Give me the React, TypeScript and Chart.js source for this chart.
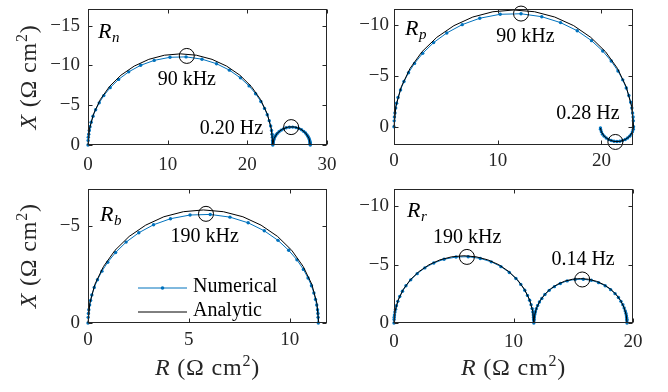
import React, { useEffect, useRef } from "react";
import { Chart, registerables } from "chart.js";

Chart.register(...registerables);

// ---------------- data (R, X in ohm cm^2) ----------------
// R_n
const rnNumR = [0, 0.02, 0.04, 0.09, 0.16, 0.25, 0.4, 0.63, 0.96, 1.41, 1.98, 2.78, 3.84, 5.11, 6.61, 8.31, 10.29, 12.31, 14.31, 16.13, 17.75, 19.13, 20.22, 21.04, 21.7, 22.16, 22.5, 22.75, 22.93, 23.04, 23.11, 23.16, 23.18, 23.2,
  23.2, 23.21, 23.22, 23.23, 23.25, 23.28, 23.33, 23.39, 23.48, 23.6, 23.76, 23.98, 24.24, 24.54, 24.88, 25.28, 25.69, 26.1, 26.47, 26.8, 27.08, 27.3, 27.46, 27.6, 27.69, 27.76, 27.81, 27.84, 27.87, 27.88, 27.89, 27.9, 27.9];
const rnNumX = [0, -0.58, -0.97, -1.35, -1.83, -2.31, -2.87, -3.61, -4.43, -5.3, -6.21, -7.21, -8.25, -9.2, -10.02, -10.64, -11.03, -11.08, -10.79, -10.22, -9.41, -8.44, -7.43, -6.45, -5.47, -4.6, -3.8, -3.06, -2.4, -1.83, -1.35, -0.97, -0.58, 0,
  -0.12, -0.2, -0.27, -0.37, -0.47, -0.58, -0.73, -0.9, -1.07, -1.26, -1.46, -1.67, -1.87, -2.03, -2.16, -2.24, -2.25, -2.19, -2.07, -1.91, -1.71, -1.51, -1.31, -1.11, -0.93, -0.77, -0.62, -0.49, -0.37, -0.27, -0.2, -0.12, 0];
const rnAnaR = [0, 0.18, 0.7, 1.55, 2.71, 4.14, 5.8, 7.63, 9.59, 11.6, 13.61, 15.57, 17.4, 19.06, 20.49, 21.65, 22.5, 23.02, 23.2,
  23.34, 23.75, 24.38, 25.14, 25.96, 26.73, 27.35, 27.76, 27.9];
const rnAnaX = [0, -1.99, -3.92, -5.73, -7.37, -8.78, -9.92, -10.77, -11.29, -11.46, -11.29, -10.77, -9.92, -8.78, -7.37, -5.73, -3.92, -1.99, 0,
  -0.79, -1.48, -1.99, -2.27, -2.27, -1.99, -1.48, -0.79, 0];
const rnMarkR = [12.4, 25.5];
const rnMarkX = [-11.2, -2.25];
const rnMarkText = ["90 kHz", "0.20 Hz"];
const rnXTicks = [0, 10, 20, 30];
const rnYTicks = [-15, -10, -5, 0];

// R_p
const rpNumR = [0, 0.02, 0.04, 0.09, 0.16, 0.25, 0.39, 0.63, 0.96, 1.4, 1.98, 2.77, 3.82, 5.09, 6.58, 8.27, 10.24, 12.25, 14.25, 16.06, 17.67, 19.05, 20.13, 20.95, 21.6, 22.06, 22.4, 22.65, 22.83, 22.94, 23.01, 23.06, 23.08, 23.1,
  23.08, 23.0, 22.89, 22.73, 22.53, 22.3, 22.05, 21.78, 21.5, 21.22, 20.95, 20.7, 20.47, 20.27, 20.11, 20.0, 19.92, 19.91];
const rpNumX = [0, -0.58, -0.97, -1.36, -1.84, -2.32, -2.89, -3.63, -4.45, -5.32, -6.24, -7.24, -8.29, -9.24, -10.06, -10.69, -11.08, -11.13, -10.84, -10.26, -9.46, -8.48, -7.46, -6.47, -5.49, -4.62, -3.81, -3.07, -2.41, -1.84, -1.36, -0.97, -0.58, 0,
  0.25, 0.5, 0.73, 0.93, 1.11, 1.26, 1.36, 1.43, 1.45, 1.43, 1.36, 1.26, 1.11, 0.93, 0.73, 0.5, 0.25, 0.13];
const rpAnaR = [0, 0.18, 0.7, 1.55, 2.7, 4.13, 5.78, 7.6, 9.54, 11.55, 13.56, 15.5, 17.33, 18.97, 20.4, 21.55, 22.4, 22.92, 23.1,
  23.0, 22.73, 22.3, 21.78, 21.22, 20.7, 20.27, 20.0, 19.91];
const rpAnaX = [0, -2.0, -3.93, -5.75, -7.39, -8.81, -9.96, -10.81, -11.33, -11.5, -11.33, -10.81, -9.96, -8.81, -7.39, -5.75, -3.93, -2.0, 0,
  0.5, 0.94, 1.27, 1.45, 1.45, 1.27, 0.94, 0.5, 0.13];
const rpMarkR = [12.25, 21.35];
const rpMarkX = [-11.15, 1.5];
const rpMarkText = ["90 kHz", "0.28 Hz"];
const rpXTicks = [0, 10, 20];
const rpYTicks = [-10, -5, 0];

// R_b
const rbNumR = [0, 0.01, 0.02, 0.04, 0.08, 0.13, 0.19, 0.31, 0.47, 0.69, 0.98, 1.37, 1.89, 2.52, 3.25, 4.09, 5.06, 6.06, 7.04, 7.94, 8.74, 9.42, 9.95, 10.36, 10.68, 10.91, 11.08, 11.2, 11.28, 11.34, 11.38, 11.4, 11.41, 11.42];
const rbNumX = [0, -0.29, -0.49, -0.68, -0.92, -1.16, -1.44, -1.82, -2.22, -2.66, -3.12, -3.62, -4.15, -4.63, -5.04, -5.35, -5.54, -5.57, -5.43, -5.14, -4.73, -4.24, -3.73, -3.24, -2.75, -2.31, -1.91, -1.54, -1.21, -0.92, -0.68, -0.49, -0.29, 0];
const rbAnaR = [0, 0.09, 0.34, 0.77, 1.34, 2.04, 2.86, 3.76, 4.73, 5.72, 6.71, 7.68, 8.58, 9.4, 10.1, 10.67, 11.1, 11.35, 11.44];
const rbAnaX = [0, -1.01, -1.98, -2.9, -3.73, -4.44, -5.02, -5.45, -5.71, -5.8, -5.71, -5.45, -5.02, -4.44, -3.73, -2.9, -1.98, -1.01, 0];
const rbMarkR = [5.85];
const rbMarkX = [-5.6];
const rbMarkText = ["190 kHz"];
const rbXTicks = [0, 5, 10];
const rbYTicks = [-5, 0];

// R_r
const rrNumR = [0, 0.01, 0.02, 0.04, 0.08, 0.13, 0.2, 0.32, 0.48, 0.71, 1.0, 1.4, 1.94, 2.58, 3.33, 4.19, 5.19, 6.21, 7.22, 8.14, 8.95, 9.65, 10.2, 10.61, 10.94, 11.17, 11.35, 11.47, 11.56, 11.62, 11.66, 11.68, 11.69, 11.7,
  11.71, 11.71, 11.73, 11.75, 11.79, 11.83, 11.91, 12.02, 12.17, 12.37, 12.63, 12.99, 13.42, 13.92, 14.49, 15.16, 15.84, 16.51, 17.12, 17.67, 18.13, 18.5, 18.78, 18.99, 19.15, 19.26, 19.35, 19.41, 19.45, 19.47, 19.49, 19.49, 19.5];
const rrNumX = [0, -0.3, -0.5, -0.69, -0.94, -1.18, -1.47, -1.85, -2.26, -2.71, -3.18, -3.69, -4.22, -4.71, -5.13, -5.45, -5.64, -5.67, -5.52, -5.23, -4.82, -4.32, -3.8, -3.3, -2.8, -2.36, -1.94, -1.57, -1.23, -0.94, -0.69, -0.5, -0.3, 0,
  -0.2, -0.33, -0.46, -0.62, -0.78, -0.97, -1.22, -1.5, -1.79, -2.1, -2.44, -2.79, -3.11, -3.38, -3.6, -3.73, -3.74, -3.65, -3.45, -3.18, -2.85, -2.51, -2.18, -1.85, -1.56, -1.28, -1.03, -0.81, -0.62, -0.46, -0.33, -0.2, 0];
const rrAnaR = [0, 0.09, 0.35, 0.78, 1.37, 2.09, 2.93, 3.85, 4.83, 5.85, 6.87, 7.85, 8.78, 9.61, 10.33, 10.92, 11.35, 11.61, 11.7,
  11.76, 11.94, 12.22, 12.61, 13.09, 13.65, 14.27, 14.92, 15.6, 16.28, 16.93, 17.55, 18.11, 18.59, 18.98, 19.26, 19.44, 19.5];
const rrAnaX = [0, -1.0, -1.97, -2.88, -3.7, -4.4, -4.98, -5.4, -5.66, -5.75, -5.66, -5.4, -4.98, -4.4, -3.7, -2.88, -1.97, -1.0, 0,
  -0.66, -1.3, -1.9, -2.44, -2.91, -3.29, -3.57, -3.74, -3.8, -3.74, -3.57, -3.29, -2.91, -2.44, -1.9, -1.3, -0.66, 0];
const rrMarkR = [6.1, 15.75];
const rrMarkX = [-5.65, -3.72];
const rrMarkText = ["190 kHz", "0.14 Hz"];
const rrXTicks = [0, 10, 20];
const rrYTicks = [-10, -5, 0];

const legendLabels = ["Numerical", "Analytic"];

// ---------------- styling ----------------
const FONT = '"Liberation Serif", "Times New Roman", serif';
const INK = "#262626";
const BLUE = "#0072BD";

type Spec = {
  id: string;
  canvas: { left: number; top: number; width: number; height: number };
  area: { left: number; top: number; right: number; bottom: number };
  xr: [number, number];
  yr: [number, number];
  xTicks: number[];
  yTicks: number[];
  numR: number[]; numX: number[];
  anaR: number[]; anaX: number[];
  markR: number[]; markX: number[];
  markText: string[];
  textPos: [number, number][];
  sub: string;
  subOff: [number, number];
  xPad: number;
  yPad: number;
  yTitle: boolean;
  xTitle: boolean;
  legend: boolean;
};

const XH = 30;

const PANELS: Spec[] = [
  {
    id: "n", canvas: { left: 0, top: 0, width: 350, height: 180 },
    area: { left: 88, top: 9, right: 327, bottom: 145 },
    xr: [0, 30], yr: [-17.1, 0], xTicks: rnXTicks, yTicks: rnYTicks,
    numR: rnNumR, numX: rnNumX, anaR: rnAnaR, anaX: rnAnaX,
    markR: rnMarkR, markX: rnMarkX, markText: rnMarkText,
    textPos: [[12.4, -8.25], [18.0, -2.1]],
    sub: "n", subOff: [10, 29], xPad: 8.6, yPad: 8, yTitle: true, xTitle: false, legend: false,
  },
  {
    id: "p", canvas: { left: 330, top: 0, width: 338, height: 180 },
    area: { left: 64, top: 9, right: 303, bottom: 145 },
    xr: [0, 23.05], yr: [-11.6, 1.8], xTicks: rpXTicks, yTicks: rpYTicks,
    numR: rpNumR, numX: rpNumX, anaR: rpAnaR, anaX: rpAnaX,
    markR: rpMarkR, markX: rpMarkX, markText: rpMarkText,
    textPos: [[12.68, -8.85], [18.7, -1.32]],
    sub: "p", subOff: [11, 26], xPad: 4.6, yPad: 5, yTitle: false, xTitle: false, legend: false,
  },
  {
    id: "b", canvas: { left: 0, top: 180, width: 350, height: 212 },
    area: { left: 88, top: 5, right: 327, bottom: 143 },
    xr: [0, 11.85], yr: [-6.9, 0], xTicks: rbXTicks, yTicks: rbYTicks,
    numR: rbNumR, numX: rbNumX, anaR: rbAnaR, anaX: rbAnaX,
    markR: rbMarkR, markX: rbMarkX, markText: rbMarkText,
    textPos: [[5.79, -4.43]],
    sub: "b", subOff: [12, 32], xPad: 5.5, yPad: 8, yTitle: true, xTitle: true, legend: true,
  },
  {
    id: "r", canvas: { left: 330, top: 180, width: 338, height: 212 },
    area: { left: 64, top: 5, right: 303, bottom: 143 },
    xr: [0, 20], yr: [-11.5, 0], xTicks: rrXTicks, yTicks: rrYTicks,
    numR: rrNumR, numX: rrNumX, anaR: rrAnaR, anaX: rrAnaX,
    markR: rrMarkR, markX: rrMarkX, markText: rrMarkText,
    textPos: [[6.13, -7.31], [15.82, -5.43]],
    sub: "r", subOff: [13, 28], xPad: 7.5, yPad: 5, yTitle: false, xTitle: true, legend: false,
  },
];

function pts(xs: number[], ys: number[]) {
  return xs.map((x, i) => ({ x, y: ys[i] }));
}
function fmtTick(v: number) {
  return v < 0 ? "\u2212" + Math.abs(v) : String(v);
}

type Piece = { t: string; font: string; dy?: number };
function drawPieces(ctx: CanvasRenderingContext2D, pieces: Piece[], cx: number, baseY: number) {
  const anyCtx = ctx as any;
  anyCtx.letterSpacing = "0.8px";
  let total = 0;
  for (const p of pieces) { ctx.font = p.font; total += ctx.measureText(p.t).width; }
  let x = cx - total / 2;
  ctx.textAlign = "left";
  ctx.textBaseline = "alphabetic";
  for (const p of pieces) {
    ctx.font = p.font;
    ctx.fillText(p.t, x, baseY + (p.dy || 0));
    x += ctx.measureText(p.t).width;
  }
  anyCtx.letterSpacing = "0px";
}
function titlePieces(sym: string): Piece[] {
  return [
    { t: sym, font: `italic 24px ${FONT}` },
    { t: " (\u03A9 cm", font: `24px ${FONT}` },
    { t: "2", font: `16px ${FONT}`, dy: -9 },
    { t: ")", font: `24px ${FONT}` },
  ];
}

function makeDecor(spec: Spec) {
  return {
    id: "decor_" + spec.id,
    afterDraw(chart: any) {
      const ctx: CanvasRenderingContext2D = chart.ctx;
      const a = chart.chartArea;
      const xs = chart.scales.x;
      const ys = chart.scales.y;
      ctx.save();
      // box with inward ticks
      const L = Math.round(a.left) + 0.5, R = Math.round(a.right) - 0.5;
      const T = Math.round(a.top) + 0.5, B = Math.round(a.bottom) - 0.5;
      ctx.strokeStyle = INK;
      ctx.lineWidth = 1;
      ctx.strokeRect(L, T, R - L, B - T);
      const tl = 4;
      ctx.beginPath();
      spec.xTicks.forEach((v) => {
        const px = Math.round(xs.getPixelForValue(v)) + 0.5;
        ctx.moveTo(px, B); ctx.lineTo(px, B - tl);
        ctx.moveTo(px, T); ctx.lineTo(px, T + tl);
      });
      spec.yTicks.forEach((v) => {
        const py = Math.round(ys.getPixelForValue(v)) + 0.5;
        ctx.moveTo(L, py); ctx.lineTo(L + tl, py);
        ctx.moveTo(R, py); ctx.lineTo(R - tl, py);
      });
      ctx.stroke();

      // frequency labels
      ctx.fillStyle = "#000";
      ctx.font = `20px ${FONT}`;
      ctx.textAlign = "center";
      ctx.textBaseline = "middle";
      spec.markText.forEach((t, i) => {
        const [r, x] = spec.textPos[i];
        ctx.fillText(t, xs.getPixelForValue(r), ys.getPixelForValue(x));
      });

      // panel label R_sub
      const lx = a.left + spec.subOff[0];
      const ly = a.top + spec.subOff[1];
      ctx.textAlign = "left";
      ctx.textBaseline = "alphabetic";
      ctx.font = `italic 22px ${FONT}`;
      ctx.fillText("R", lx, ly);
      const w = ctx.measureText("R").width;
      ctx.font = `italic 15px ${FONT}`;
      ctx.fillText(spec.sub, lx + w + 0.5, ly + 4);

      // axis titles
      ctx.fillStyle = INK;
      if (spec.xTitle) {
        drawPieces(ctx, titlePieces("R"), (a.left + a.right) / 2, 195);
      }
      if (spec.yTitle) {
        ctx.save();
        ctx.translate(36, (a.top + a.bottom) / 2);
        ctx.rotate(-Math.PI / 2);
        drawPieces(ctx, titlePieces("X"), 0, 0);
        ctx.restore();
      }

      // legend
      if (spec.legend) {
        const x0 = a.left + 50, x1 = a.left + 99;
        const y0 = a.top + 99.5, y1 = a.top + 123.5;
        ctx.lineWidth = 1;
        ctx.strokeStyle = BLUE;
        ctx.beginPath(); ctx.moveTo(x0, y0); ctx.lineTo(x1, y0); ctx.stroke();
        ctx.fillStyle = BLUE;
        ctx.beginPath(); ctx.arc((x0 + x1) / 2, y0, 1.8, 0, Math.PI * 2); ctx.fill();
        ctx.strokeStyle = "#000";
        ctx.beginPath(); ctx.moveTo(x0, y1); ctx.lineTo(x1, y1); ctx.stroke();
        ctx.fillStyle = "#000";
        ctx.font = `20px ${FONT}`;
        ctx.textAlign = "left";
        ctx.textBaseline = "middle";
        ctx.fillText(legendLabels[0], x1 + 6, y0 - 1);
        ctx.fillText(legendLabels[1], x1 + 6, y1 - 1);
      }
      ctx.restore();
    },
  };
}

function buildConfig(spec: Spec): any {
  const { canvas, area } = spec;
  const yW = area.left;
  return {
    type: "scatter",
    data: {
      datasets: [
        {
          label: "markers",
          data: pts(spec.markR, spec.markX),
          showLine: false,
          pointStyle: "circle",
          pointRadius: 7.5,
          pointHoverRadius: 7.5,
          pointBackgroundColor: "rgba(0,0,0,0)",
          pointBorderColor: "#000",
          pointBorderWidth: 1,
          order: 0,
          clip: false,
        },
        {
          label: legendLabels[1],
          data: pts(spec.anaR, spec.anaX),
          showLine: true,
          borderColor: "#000",
          borderWidth: 1,
          pointRadius: 0,
          pointHoverRadius: 0,
          order: 1,
          clip: false,
        },
        {
          label: legendLabels[0],
          data: pts(spec.numR, spec.numX),
          showLine: true,
          borderColor: BLUE,
          borderWidth: 1,
          pointRadius: 1.7,
          pointHoverRadius: 1.7,
          pointBackgroundColor: BLUE,
          pointBorderWidth: 0,
          order: 2,
          clip: false,
        },
      ],
    },
    options: {
      animation: false,
      responsive: false,
      maintainAspectRatio: false,
      devicePixelRatio: 1,
      events: [],
      layout: {
        padding: {
          left: 0,
          top: area.top,
          right: canvas.width - area.right,
          bottom: canvas.height - area.bottom - XH,
        },
      },
      plugins: {
        legend: { display: false },
        tooltip: { enabled: false },
        title: { display: false },
      },
      scales: {
        x: {
          type: "linear",
          position: "bottom",
          min: spec.xr[0],
          max: spec.xr[1],
          grid: { display: false, drawTicks: false },
          border: { display: false },
          ticks: {
            font: { family: FONT, size: 19 },
            color: INK,
            padding: spec.xPad,
            maxRotation: 0,
            autoSkip: false,
            callback: (v: any) => fmtTick(Number(v)),
          },
          afterBuildTicks: (s: any) => {
            s.ticks = spec.xTicks.map((v) => ({ value: v }));
          },
          afterFit: (s: any) => {
            s.height = XH;
            s.paddingLeft = 0;
            s.paddingRight = 0;
          },
        },
        y: {
          type: "linear",
          position: "left",
          reverse: true,
          min: spec.yr[0],
          max: spec.yr[1],
          grid: { display: false, drawTicks: false },
          border: { display: false },
          ticks: {
            font: { family: FONT, size: 19 },
            color: INK,
            padding: spec.yPad,
            autoSkip: false,
            callback: (v: any) => fmtTick(Number(v)),
          },
          afterBuildTicks: (s: any) => {
            s.ticks = spec.yTicks.map((v) => ({ value: v }));
          },
          afterFit: (s: any) => {
            s.width = yW;
            s.paddingTop = 0;
            s.paddingBottom = 0;
          },
        },
      },
    },
    plugins: [makeDecor(spec)],
  };
}

function Panel({ spec }: { spec: Spec }) {
  const ref = useRef<HTMLCanvasElement>(null);
  useEffect(() => {
    if (!ref.current) return;
    const chart = new Chart(ref.current, buildConfig(spec));
    return () => chart.destroy();
  }, [spec]);
  const c = spec.canvas;
  return (
    <canvas
      ref={ref}
      width={c.width}
      height={c.height}
      style={{ position: "absolute", left: c.left, top: c.top, width: c.width, height: c.height }}
    />
  );
}

export default function App() {
  return (
    <div
      style={{
        position: "absolute",
        left: 0,
        top: 0,
        width: 668,
        height: 392,
        background: "#ffffff",
        overflow: "hidden",
      }}
    >
      {PANELS.map((p) => (
        <Panel key={p.id} spec={p} />
      ))}
    </div>
  );
}
